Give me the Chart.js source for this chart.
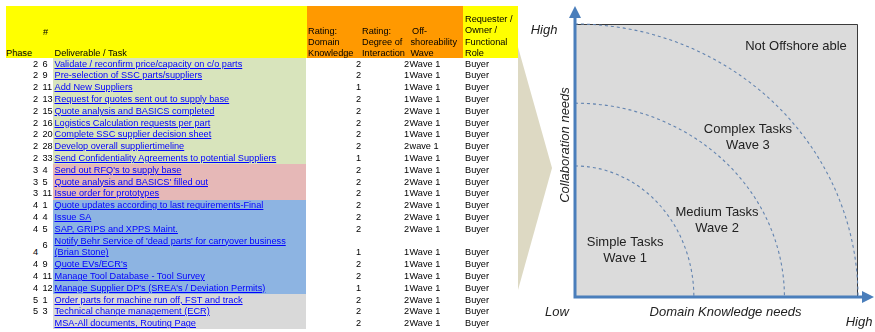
<!DOCTYPE html>
<html>
<head>
<meta charset="utf-8">
<script src="https://cdn.jsdelivr.net/npm/chart.js@4.4.1/dist/chart.umd.min.js"></script>
<style>
  body { margin: 0; background: #fff; }
  #wrap { position: relative; width: 875px; height: 332px; overflow: hidden; font-family: "Liberation Sans", Arial, sans-serif; }
  .t { position: absolute; font-size: 9.2px; line-height: 11px; white-space: nowrap; color: #000; }
  .lnk { color: #0000ff; text-decoration: underline; }
  .band { position: absolute; }
  #quad { position: absolute; left: 510px; top: 0; }
</style>
</head>
<body>
<div id="wrap">
  <canvas id="quad" width="365" height="332"></canvas>
</div>
<script>
// table data
const phases = [2, 2, 2, 2, 2, 2, 2, 2, 2, 3, 3, 3, 4, 4, 4, 4, 4, 4, 4, 5, 5, null];
const taskNumbers = [6, 9, 11, 13, 15, 16, 20, 28, 33, 4, 5, 11, 1, 4, 5, 6, 9, 11, 12, 1, 3, null];
const tasks = [
  "Validate / reconfirm price/capacity on c/o parts",
  "Pre-selection of SSC parts/suppliers",
  "Add New Suppliers",
  "Request for quotes sent out to supply base",
  "Quote analysis and BASICS completed",
  "Logistics Calculation requests per part",
  "Complete SSC supplier decision sheet",
  "Develop overall suppliertimeline",
  "Send Confidentiality Agreements to potential Suppliers",
  "Send out RFQ's to supply base",
  "Quote analysis and BASICS' filled out",
  "Issue order for prototypes",
  "Quote updates according to last requirements-Final",
  "Issue SA",
  "SAP, GRIPS and XPPS Maint.",
  "Notify Behr Service of 'dead parts' for carryover business\n(Brian Stone)",
  "Quote EVs/ECR's",
  "Manage Tool Database - Tool Survey",
  "Manage Supplier DP's (SREA's / Deviation Permits)",
  "Order parts for machine run off, FST and track",
  "Technical change management (ECR)",
  "MSA-All documents, Routing Page"
];
const domainRating = [2, 2, 1, 2, 2, 2, 2, 2, 1, 2, 2, 2, 2, 2, 2, 1, 2, 2, 1, 2, 2, 2];
const interactionRating = [2, 1, 1, 1, 2, 2, 1, 2, 1, 1, 2, 1, 2, 2, 2, 1, 1, 1, 1, 2, 2, 2];
const waves = ["Wave 1", "Wave 1", "Wave 1", "Wave 1", "Wave 1", "Wave 1", "Wave 1", "wave 1", "Wave 1", "Wave 1", "Wave 1",
  "Wave 1", "Wave 1", "Wave 1", "Wave 1", "Wave 1", "Wave 1", "Wave 1", "Wave 1", "Wave 1", "Wave 1", "Wave 1"];
const roles = ["Buyer", "Buyer", "Buyer", "Buyer", "Buyer", "Buyer", "Buyer", "Buyer", "Buyer", "Buyer", "Buyer",
  "Buyer", "Buyer", "Buyer", "Buyer", "Buyer", "Buyer", "Buyer", "Buyer", "Buyer", "Buyer", "Buyer"];

// quadrant data (0..10 on both axes)
const waveRadiusX = [4.2, 7.4, 10];
const waveRadiusY = [4.8, 7.1, 10];
const regionLabels = [["Simple Tasks", "Wave 1"], ["Medium Tasks", "Wave 2"], ["Complex Tasks", "Wave 3"], ["Not Offshore able"]];
const regionLabelAt = [[1.77, 1.72], [5.02, 2.82], [6.11, 5.86], [7.81, 9.19]];

const phaseColors = { 2: '#d8e4bc', 3: '#e6b8b7', 4: '#8db4e2', 5: '#d9d9d9' };

const wrap = document.getElementById('wrap');

function box(x, y, w, h, color) {
  const d = document.createElement('div');
  d.className = 'band';
  d.style.cssText = `left:${x}px;top:${y}px;width:${w}px;height:${h}px;background:${color}`;
  wrap.insertBefore(d, wrap.firstChild);
}
function txt(text, x, yc, align, cls) {
  const d = document.createElement('div');
  d.className = 't' + (cls ? ' ' + cls : '');
  d.textContent = text;
  d.style.top = (yc - 5.3) + 'px';
  if (align === 'right') { d.style.left = (x - 60) + 'px'; d.style.width = '60px'; d.style.textAlign = 'right'; }
  else d.style.left = x + 'px';
  wrap.appendChild(d);
}

// header
box(6, 6, 301, 52, '#ffff00');
box(307, 6, 156, 52, '#ff9900');
box(463, 6, 55, 52, '#ffff00');
txt('Phase', 6, 53);
txt('#', 43, 32);
txt('Deliverable / Task', 54.5, 53);
['Rating:', 'Domain', 'Knowledge'].forEach((s, k) => txt(s, 308, 31 + k * 11.2));
['Rating:', 'Degree of', 'Interaction'].forEach((s, k) => txt(s, 362, 31 + k * 11.2));
['Off-', 'shoreability', 'Wave'].forEach((s, k) => txt(s, k === 0 ? 412 : 410.5, 31 + k * 11.2));
['Requester /', 'Owner /', 'Functional', 'Role'].forEach((s, k) => txt(s, 465, 19.5 + k * 11.2));

// rows
const rowUnit = 11.8;
let rowTop = 58, lastColor = phaseColors[2];
tasks.forEach((task, i) => {
  const lines = task.split('\n');
  const h = lines.length * rowUnit;
  const color = phases[i] != null ? phaseColors[phases[i]] : lastColor;
  lastColor = color;
  box(53, rowTop, 253, h, color);
  const lastY = rowTop + h - rowUnit / 2;
  if (phases[i] != null) txt(String(phases[i]), 38, lastY, 'right');
  if (taskNumbers[i] != null) txt(String(taskNumbers[i]), 42.5, lines.length > 1 ? rowTop + h / 2 - 2 : lastY);
  lines.forEach((s, k) => txt(s, 54.5, rowTop + rowUnit / 2 + k * rowUnit, null, 'lnk'));
  txt(String(domainRating[i]), 361, lastY, 'right');
  txt(String(interactionRating[i]), 409, lastY, 'right');
  txt(waves[i], 409.5, lastY);
  txt(roles[i], 465, lastY);
  rowTop += h;
});

// quadrant drawn on the chart area
const quadrantPlugin = {
  id: 'quadrant',
  beforeDraw(chart) {
    const { ctx, chartArea: a, scales: { x, y } } = chart;
    const x0 = x.getPixelForValue(0), y0 = y.getPixelForValue(0);
    ctx.save();
    // chevron behind
    ctx.fillStyle = '#ddd9c3';
    ctx.beginPath();
    ctx.moveTo(8, 47); ctx.lineTo(42, 168); ctx.lineTo(8, 290); ctx.closePath();
    ctx.fill();
    // panel
    ctx.fillStyle = '#dbdbdb';
    ctx.fillRect(a.left, a.top, a.width, a.height);
    ctx.strokeStyle = '#3a3a3a';
    ctx.lineWidth = 1;
    ctx.beginPath();
    ctx.moveTo(a.left, a.top + 0.5); ctx.lineTo(a.right - 0.5, a.top + 0.5); ctx.lineTo(a.right - 0.5, a.bottom);
    ctx.stroke();
    // dashed wave boundaries
    ctx.setLineDash([3, 3]);
    ctx.strokeStyle = '#6384b0';
    ctx.lineWidth = 1.1;
    waveRadiusX.forEach((rx, i) => {
      const rxp = x.getPixelForValue(rx) - x0;
      const ryp = y0 - y.getPixelForValue(waveRadiusY[i]);
      ctx.beginPath();
      ctx.ellipse(x0, y0, rxp, ryp, 0, -Math.PI / 2, 0);
      ctx.stroke();
    });
    ctx.setLineDash([]);
    // axes with arrows
    ctx.strokeStyle = ctx.fillStyle = '#4a7ebb';
    ctx.lineWidth = 3;
    ctx.beginPath();
    ctx.moveTo(x0, y0 + 1.5); ctx.lineTo(x0, 16);
    ctx.moveTo(x0 - 1.5, y0); ctx.lineTo(a.right + 4, y0);
    ctx.stroke();
    ctx.beginPath();
    ctx.moveTo(x0, 6); ctx.lineTo(x0 - 6, 18); ctx.lineTo(x0 + 6, 18); ctx.closePath(); ctx.fill();
    ctx.beginPath();
    ctx.moveTo(a.right + 16, y0); ctx.lineTo(a.right + 4, y0 - 6); ctx.lineTo(a.right + 4, y0 + 6); ctx.closePath(); ctx.fill();
    // region labels
    ctx.fillStyle = '#222';
    ctx.font = '13px "Liberation Sans", Arial, sans-serif';
    ctx.textAlign = 'center';
    ctx.textBaseline = 'middle';
    regionLabels.forEach((lines, i) => {
      const cx = x.getPixelForValue(regionLabelAt[i][0]);
      const cy = y.getPixelForValue(regionLabelAt[i][1]);
      lines.forEach((s, k) => ctx.fillText(s, cx, cy + (k - (lines.length - 1) / 2) * 16));
    });
    // axis captions
    ctx.font = 'italic 13px "Liberation Sans", Arial, sans-serif';
    ctx.fillText('High', x0 - 31, y.getPixelForValue(10) + 6);
    ctx.fillText('Low', x0 - 18, y0 + 15);
    ctx.fillText('High', a.right + 1, y0 + 25);
    ctx.fillText('Domain Knowledge needs', (x0 + a.right) / 2 + 9, y0 + 15);
    ctx.translate(x0 - 10, 145);
    ctx.rotate(-Math.PI / 2);
    ctx.fillText('Collaboration needs', 0, 0);
    ctx.restore();
  }
};

new Chart(document.getElementById('quad'), {
  type: 'scatter',
  data: { datasets: [] },
  options: {
    responsive: false,
    animation: false,
    devicePixelRatio: 1,
    layout: { padding: { left: 65, right: 17, top: 24, bottom: 35 } },
    plugins: { legend: { display: false }, tooltip: { enabled: false } },
    scales: {
      x: { type: 'linear', min: 0, max: 10, display: false },
      y: { type: 'linear', min: 0, max: 10, display: false }
    }
  },
  plugins: [quadrantPlugin]
});
</script>
</body>
</html>
